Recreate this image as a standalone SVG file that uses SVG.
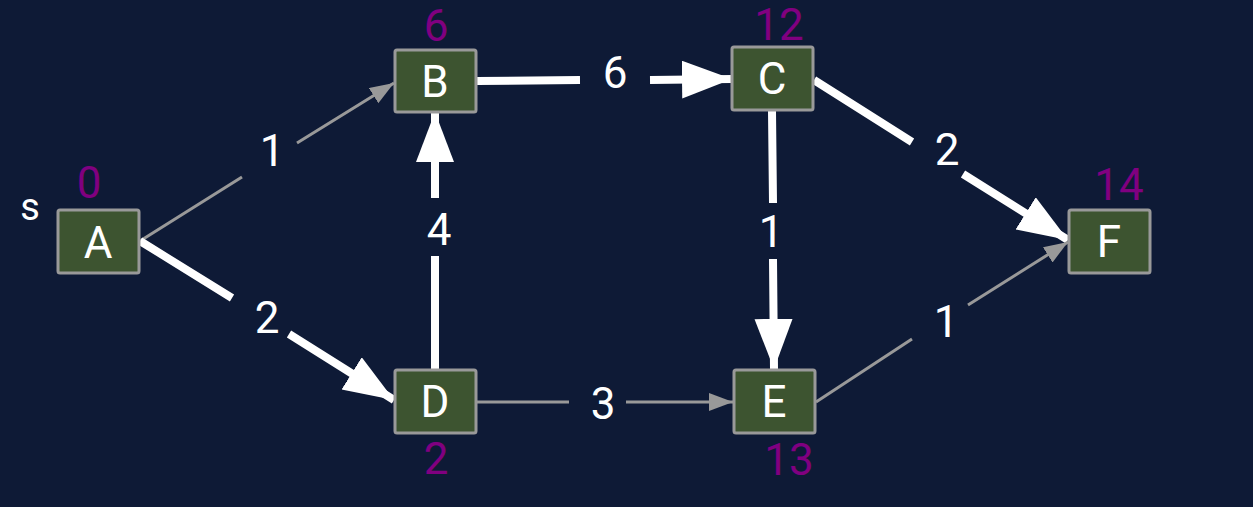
<svg xmlns="http://www.w3.org/2000/svg" width="1253" height="507" viewBox="0 0 1253 507">
  <defs>
    <marker id="thickArrow" markerUnits="userSpaceOnUse" markerWidth="52" markerHeight="40" refX="50" refY="19" orient="auto">
      <path d="M0,0 L50,19 L0,38 Z" fill="#ffffff"/>
    </marker>
    <marker id="thinArrow" markerUnits="userSpaceOnUse" markerWidth="26" markerHeight="20" refX="24" refY="9" orient="auto">
      <path d="M0,0 L24,9 L0,18 Z" fill="#999999"/>
    </marker>
    <style>
      .node rect { fill: #3d5430; stroke: #999999; stroke-width: 3; }
      .node .lbl { font-family: Roboto, "Liberation Sans", sans-serif; font-size: 44px; fill: #ffffff; text-anchor: middle; }
      .node .dist { font-family: Roboto, "Liberation Sans", sans-serif; font-size: 44px; fill: #800080; text-anchor: middle; }
      .node .src { font-family: Roboto, "Liberation Sans", sans-serif; font-size: 38px; fill: #ffffff; text-anchor: middle; }
      .thick { fill: none; stroke: #ffffff; stroke-width: 8; marker-end: url(#thickArrow); }
      .thin { fill: none; stroke: #999999; stroke-width: 3; marker-end: url(#thinArrow); }
      .elbl { font-family: Roboto, "Liberation Sans", sans-serif; font-size: 44px; fill: #ffffff; text-anchor: middle; }
    </style>
  </defs>
  <rect x="0" y="0" width="1253" height="507" fill="#0e1a36"/>

  <g id="connectors">
    <path id="e-A-B" class="thin" d="M140,241 L242,177 M297,143 L394,83"/>
    <path id="e-A-D" class="thick" d="M140,241 L232,298 M289,334 L394,400"/>
    <path id="e-D-B" class="thick" d="M435,370 L435,256 M435,198 L435,112"/>
    <path id="e-B-C" class="thick" d="M477,81 L580,80 M650,80 L732,79"/>
    <path id="e-C-F" class="thick" d="M814,80 L912,142 M963,174 L1068,240"/>
    <path id="e-C-E" class="thick" d="M772,111 L773,203 M773,259 L774,369"/>
    <path id="e-D-E" class="thin" d="M477,402 L569,402 M626,402 L733,402"/>
    <path id="e-E-F" class="thin" d="M816,402 L912,339 M968,305 L1068,242"/>
    <text class="elbl" x="272" y="166">1</text>
    <text class="elbl" x="267" y="333">2</text>
    <text class="elbl" x="439" y="245">4</text>
    <text class="elbl" x="615" y="88">6</text>
    <text class="elbl" x="947" y="165">2</text>
    <text class="elbl" x="771" y="247">1</text>
    <text class="elbl" x="946" y="337">1</text>
    <text class="elbl" x="603" y="419">3</text>
  </g>

  <g id="node-A" class="node">
    <rect x="58" y="210" width="81" height="63" rx="2"/>
    <text class="lbl" x="98" y="258">A</text>
    <text class="dist" x="89" y="198">0</text>
    <text class="src" x="30" y="220">s</text>
  </g>
  <g id="node-B" class="node">
    <rect x="395" y="50" width="81" height="62" rx="2"/>
    <text class="lbl" x="435" y="97">B</text>
    <text class="dist" x="436" y="41">6</text>
  </g>
  <g id="node-C" class="node">
    <rect x="732" y="47" width="81" height="63" rx="2"/>
    <text class="lbl" x="772" y="94">C</text>
    <text class="dist" x="779" y="40">12</text>
  </g>
  <g id="node-D" class="node">
    <rect x="395" y="370" width="81" height="63" rx="2"/>
    <text class="lbl" x="435" y="417">D</text>
    <text class="dist" x="436" y="474">2</text>
  </g>
  <g id="node-E" class="node">
    <rect x="734" y="370" width="81" height="63" rx="2"/>
    <text class="lbl" x="774" y="417">E</text>
    <text class="dist" x="789" y="475">13</text>
  </g>
  <g id="node-F" class="node">
    <rect x="1069" y="210" width="81" height="63" rx="2"/>
    <text class="lbl" x="1109" y="257">F</text>
    <text class="dist" x="1119" y="200">14</text>
  </g>
</svg>
